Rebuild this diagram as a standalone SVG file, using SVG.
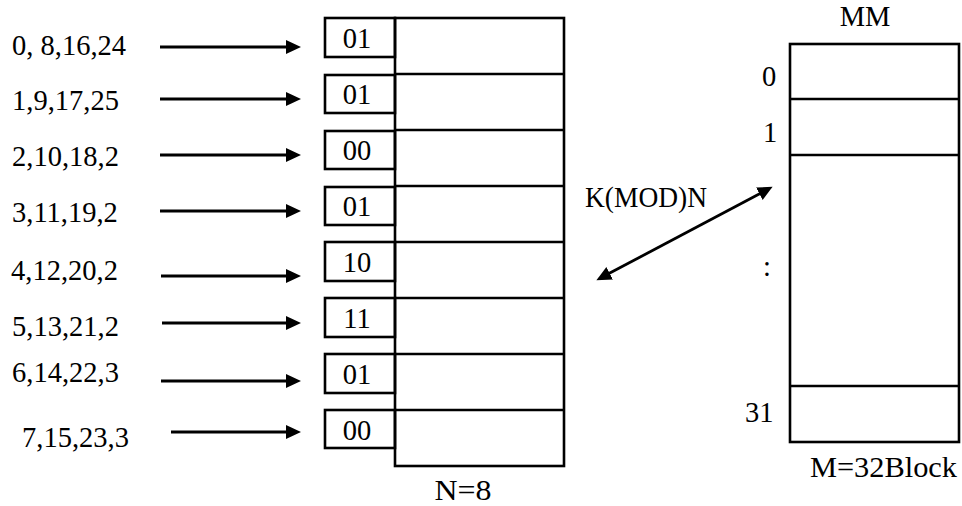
<svg xmlns="http://www.w3.org/2000/svg" width="962" height="506" viewBox="0 0 962 506">
<style>
text{font-family:"Liberation Serif","Times New Roman",serif;font-size:28.5px;fill:#000}
.b{fill:none;stroke:#000;stroke-width:2.6}
.c{stroke:#000;stroke-width:2.8;fill:none}
.m{text-anchor:middle}
</style>
<defs>
<marker id="ah" markerUnits="userSpaceOnUse" markerWidth="18" markerHeight="16" refX="3" refY="7" orient="auto-start-reverse">
<path d="M0,0 L15,7 L0,14 z" fill="#000"/>
</marker>
</defs>
<rect width="962" height="506" fill="#fff"/>
<g id="labels">
<text x="12" y="55">0, 8,16,24</text>
<text x="12" y="110">1,9,17,25</text>
<text x="12" y="166">2,10,18,2</text>
<text x="12" y="222">3,11,19,2</text>
<text x="11" y="280">4,12,20,2</text>
<text x="12" y="336">5,13,21,2</text>
<text x="12" y="382">6,14,22,3</text>
<text x="22" y="447">7,15,23,3</text>
</g>
<g id="cache">
<rect class="b" x="395" y="18" width="169" height="448"/>
<path class="b" d="M395 74H564M395 130H564M395 186H564M395 242H564M395 298H564M395 354H564M395 410H564"/>
<text class="m" x="463" y="500" textLength="57" lengthAdjust="spacingAndGlyphs">N=8</text>
</g>
<g id="tag0"><rect class="b" x="325" y="18" width="70" height="39"/><text class="m" x="357" y="48">01</text></g>
<g id="tag1"><rect class="b" x="325" y="75" width="70" height="38"/><text class="m" x="357" y="104">01</text></g>
<g id="tag2"><rect class="b" x="325" y="131" width="70" height="38"/><text class="m" x="357" y="160">00</text></g>
<g id="tag3"><rect class="b" x="325" y="187" width="70" height="38"/><text class="m" x="357" y="216">01</text></g>
<g id="tag4"><rect class="b" x="325" y="242" width="70" height="39"/><text class="m" x="357" y="272">10</text></g>
<g id="tag5"><rect class="b" x="325" y="298" width="70" height="39"/><text class="m" x="357" y="328">11</text></g>
<g id="tag6"><rect class="b" x="325" y="354" width="70" height="39"/><text class="m" x="357" y="384">01</text></g>
<g id="tag7"><rect class="b" x="325" y="410" width="70" height="38"/><text class="m" x="357" y="440">00</text></g>
<g id="mm">
<text class="m" x="865" y="26">MM</text>
<rect class="b" x="790" y="44" width="169" height="398"/>
<path class="b" d="M790 99H959M790 155H959M790 386H959"/>
<text x="762" y="86">0</text>
<text x="763" y="142">1</text>
<text x="763" y="276">:</text>
<text x="745" y="422">31</text>
<text x="810" y="477" textLength="147" lengthAdjust="spacingAndGlyphs">M=32Block</text>
</g>
<g id="connectors">
<line class="c" x1="160" y1="47" x2="289" y2="47" marker-end="url(#ah)"/>
<line class="c" x1="160" y1="99" x2="289" y2="99" marker-end="url(#ah)"/>
<line class="c" x1="160" y1="155" x2="289" y2="155" marker-end="url(#ah)"/>
<line class="c" x1="160" y1="211" x2="289" y2="211" marker-end="url(#ah)"/>
<line class="c" x1="161" y1="276" x2="289" y2="276" marker-end="url(#ah)"/>
<line class="c" x1="162" y1="323" x2="289" y2="323" marker-end="url(#ah)"/>
<line class="c" x1="161" y1="381" x2="289" y2="381" marker-end="url(#ah)"/>
<line class="c" x1="171" y1="432" x2="289" y2="432" marker-end="url(#ah)"/>
<line class="c" x1="607" y1="274.6" x2="762" y2="192.4" marker-start="url(#ah)" marker-end="url(#ah)"/>
<text x="585" y="207" textLength="122" lengthAdjust="spacingAndGlyphs">K(MOD)N</text>
</g>
</svg>
